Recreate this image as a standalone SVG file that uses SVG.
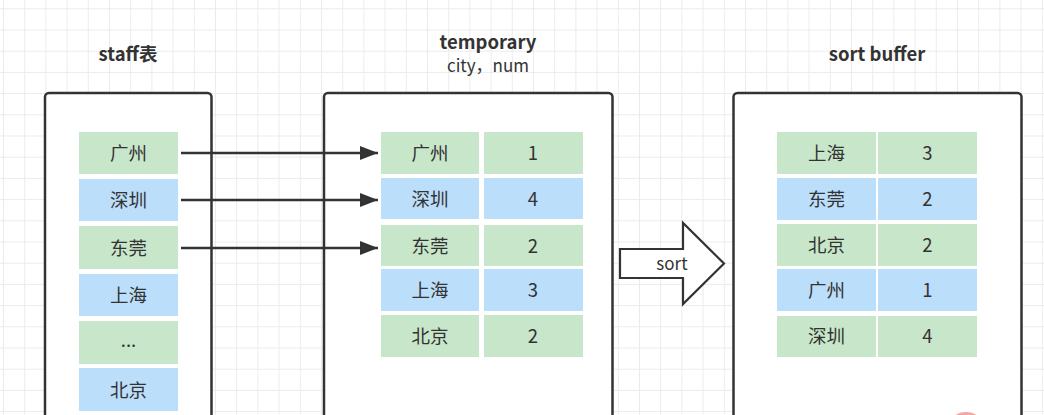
<svg xmlns="http://www.w3.org/2000/svg" width="1044" height="415" viewBox="0 0 1044 415">
  <defs>
    <pattern id="grid" patternUnits="userSpaceOnUse" x="3" y="8.3" width="21.2" height="21.2">
      <path d="M0 0.5H21.2M0.5 0V21.2" fill="none" stroke="#ebebeb" stroke-width="1"/>
    </pattern>
    <marker id="arr" markerUnits="userSpaceOnUse" markerWidth="19" markerHeight="15" refX="18" refY="7.5" orient="auto">
      <path d="M0 0.5L18 7.5L0 14.5Z" fill="#333"/>
    </marker>
    <style>
      .box{fill:#fff;stroke:#333;stroke-width:2.5}
      .g{fill:#c8e6c9}
      .b{fill:#bbdefb}
      .t{font-family:"Noto Sans CJK SC","Noto Sans",sans-serif;font-size:18.5px;fill:#333;text-anchor:middle}
      .h{font-family:"Noto Sans CJK SC","Noto Sans",sans-serif;font-size:18.5px;font-weight:bold;fill:#333;text-anchor:middle}
      .s{font-family:"Noto Sans CJK SC","Noto Sans",sans-serif;font-size:17px;fill:#333;text-anchor:middle}
      .conn{stroke:#333;stroke-width:2.5;fill:none}
    </style>
  </defs>
  <rect width="1044" height="415" fill="#fff"/>
  <rect width="1044" height="415" fill="url(#grid)"/>

  <g id="staff">
    <text class="h" x="128" y="61">staff表</text>
    <rect class="box" x="45" y="93" width="166.5" height="340" rx="4"/>
    <rect class="g" x="79" y="132" width="99" height="42"/>
    <text class="t" x="128.5" y="159.5">广州</text>
    <rect class="b" x="79" y="179" width="99" height="42"/>
    <text class="t" x="128.5" y="206.5">深圳</text>
    <rect class="g" x="79" y="226" width="99" height="43"/>
    <text class="t" x="128.5" y="254.5">东莞</text>
    <rect class="b" x="79" y="274" width="99" height="42"/>
    <text class="t" x="128.5" y="301.5">上海</text>
    <rect class="g" x="79" y="321" width="99" height="43"/>
    <text class="t" x="128.5" y="347">...</text>
    <rect class="b" x="79" y="368" width="99" height="43"/>
    <text class="t" x="128.5" y="396.5">北京</text>
  </g>

  <g id="temporary">
    <text class="h" x="488" y="49">temporary</text>
    <text class="s" x="488" y="72">city，num</text>
    <rect class="box" x="324" y="93" width="288.5" height="340" rx="4"/>
    <rect class="g" x="381" y="132" width="98" height="42"/>
    <rect class="g" x="484" y="132" width="99" height="42"/>
    <text class="t" x="430" y="159.5">广州</text>
    <text class="t" x="533" y="159.5">1</text>
    <rect class="b" x="381" y="178" width="98" height="41"/>
    <rect class="b" x="484" y="178" width="99" height="41"/>
    <text class="t" x="430" y="205.5">深圳</text>
    <text class="t" x="533" y="205.5">4</text>
    <rect class="g" x="381" y="225" width="98" height="41"/>
    <rect class="g" x="484" y="225" width="99" height="41"/>
    <text class="t" x="430" y="252.5">东莞</text>
    <text class="t" x="533" y="252.5">2</text>
    <rect class="b" x="381" y="269" width="98" height="42"/>
    <rect class="b" x="484" y="269" width="99" height="42"/>
    <text class="t" x="430" y="296.5">上海</text>
    <text class="t" x="533" y="296.5">3</text>
    <rect class="g" x="381" y="315" width="98" height="42"/>
    <rect class="g" x="484" y="315" width="99" height="42"/>
    <text class="t" x="430" y="342.5">北京</text>
    <text class="t" x="533" y="342.5">2</text>
  </g>

  <g id="sort">
    <polygon points="620,249 683,249 683,223 724,263.5 683,304 683,278 620,278" fill="#fff" stroke="#333" stroke-width="2.2" stroke-linejoin="miter"/>
    <text class="s" x="672" y="269.5">sort</text>
  </g>

  <g id="sortbuffer">
    <text class="h" x="877" y="61">sort buffer</text>
    <rect class="box" x="733.5" y="93" width="288" height="340" rx="4"/>
    <rect class="g" x="777" y="132" width="99" height="42"/>
    <rect class="g" x="878" y="132" width="99" height="42"/>
    <text class="t" x="826.5" y="159.5">上海</text>
    <text class="t" x="927.5" y="159.5">3</text>
    <rect class="b" x="777" y="178" width="99" height="42"/>
    <rect class="b" x="878" y="178" width="99" height="42"/>
    <text class="t" x="826.5" y="205.5">东莞</text>
    <text class="t" x="927.5" y="205.5">2</text>
    <rect class="g" x="777" y="224" width="99" height="42"/>
    <rect class="g" x="878" y="224" width="99" height="42"/>
    <text class="t" x="826.5" y="251.5">北京</text>
    <text class="t" x="927.5" y="251.5">2</text>
    <rect class="b" x="777" y="269" width="99" height="42"/>
    <rect class="b" x="878" y="269" width="99" height="42"/>
    <text class="t" x="826.5" y="296.5">广州</text>
    <text class="t" x="927.5" y="296.5">1</text>
    <rect class="g" x="777" y="316" width="99" height="41"/>
    <rect class="g" x="878" y="316" width="99" height="41"/>
    <text class="t" x="826.5" y="342.5">深圳</text>
    <text class="t" x="927.5" y="342.5">4</text>
  </g>

  <g id="connectors">
    <line class="conn" x1="181" y1="153" x2="378" y2="153" marker-end="url(#arr)"/>
    <line class="conn" x1="181" y1="200" x2="378" y2="200" marker-end="url(#arr)"/>
    <line class="conn" x1="181" y1="248" x2="378" y2="248" marker-end="url(#arr)"/>
  </g>

  <ellipse cx="966" cy="426" rx="17" ry="14" fill="#f6a5a5"/>
</svg>
